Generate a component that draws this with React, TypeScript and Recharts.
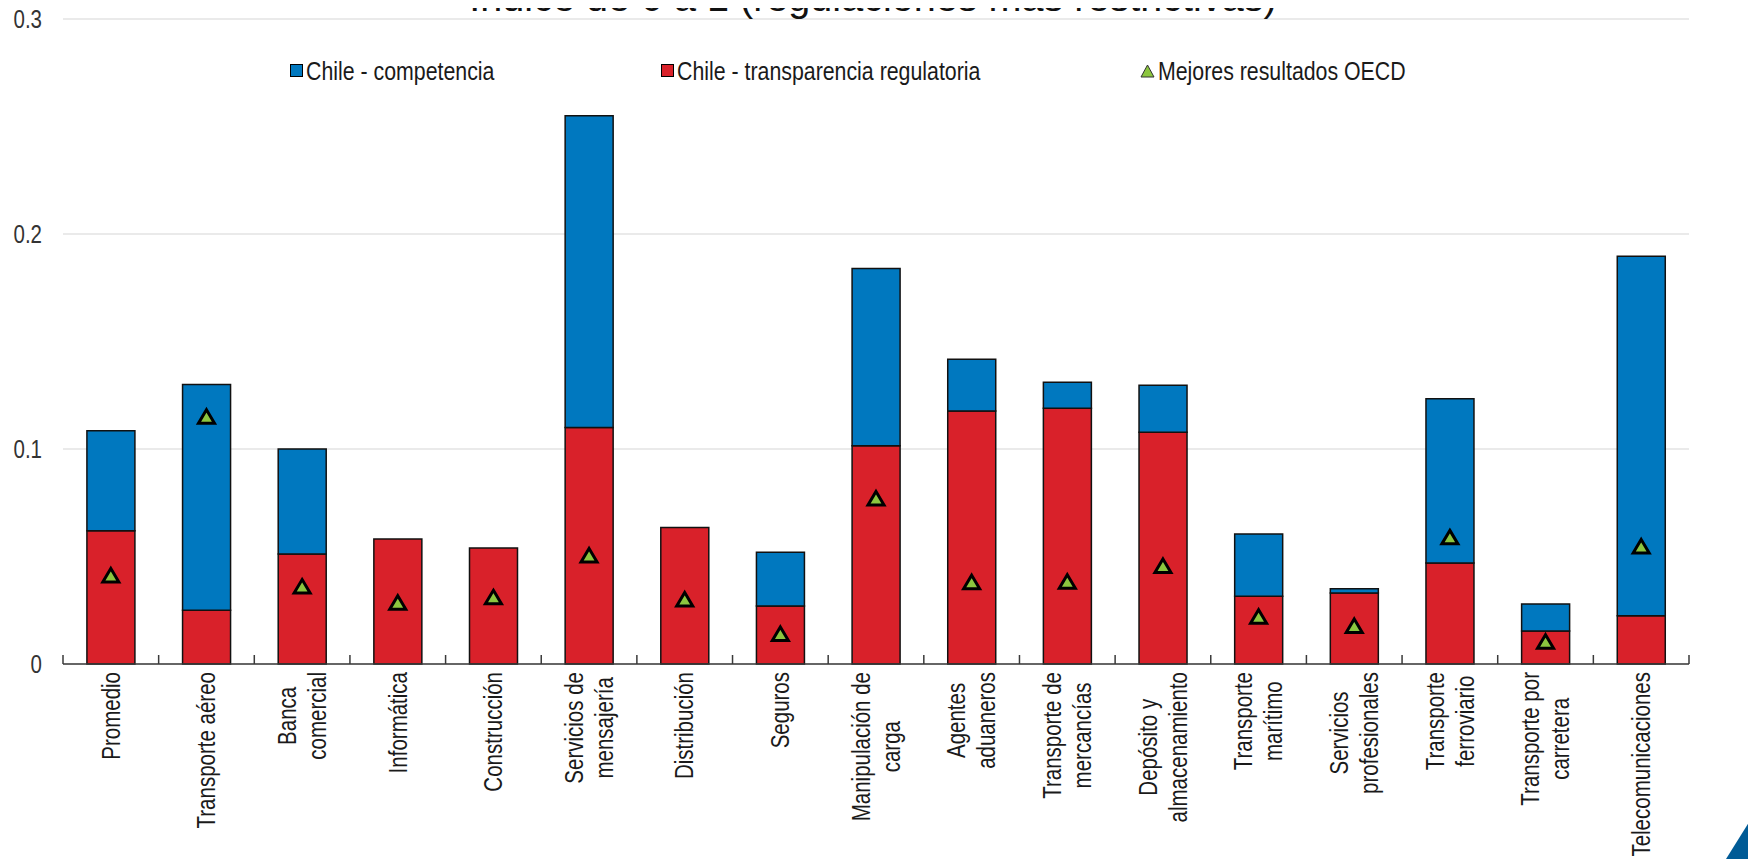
import React from 'react';
import { ComposedChart, Bar, Line, XAxis, YAxis, CartesianGrid, Legend } from 'recharts';

// ---- data ----
const categories = [
  'Promedio',
  'Transporte aéreo',
  'Banca\ncomercial',
  'Informática',
  'Construcción',
  'Servicios de\nmensajería',
  'Distribución',
  'Seguros',
  'Manipulación de\ncarga',
  'Agentes\naduaneros',
  'Transporte de\nmercancías',
  'Depósito y\nalmacenamiento',
  'Transporte\nmarítimo',
  'Servicios\nprofesionales',
  'Transporte\nferroviario',
  'Transporte por\ncarretera',
  'Telecomunicaciones',
];
// Chile - transparencia regulatoria (red, bottom segment)
const transparencia = [0.062, 0.025, 0.0512, 0.0581, 0.054, 0.110, 0.0635, 0.027, 0.1015, 0.1177, 0.119, 0.1078, 0.0315, 0.033, 0.047, 0.0153, 0.0225];
// Chile - competencia (blue, top segment)
const competencia = [0.0465, 0.105, 0.0488, 0, 0, 0.145, 0, 0.025, 0.0825, 0.024, 0.012, 0.0219, 0.029, 0.002, 0.0764, 0.0126, 0.1671];
// Mejores resultados OECD (triangles)
const oecdBest = [0.0412, 0.115, 0.036, 0.0285, 0.031, 0.0505, 0.030, 0.014, 0.077, 0.038, 0.0383, 0.0456, 0.022, 0.0177, 0.0589, 0.0104, 0.0547];

const yTicks = [0, 0.1, 0.2, 0.3];
const yTickLabels = ['0', '0.1', '0.2', '0.3'];

const seriesNames = {
  competencia: 'Chile - competencia',
  transparencia: 'Chile - transparencia regulatoria',
  oecd: 'Mejores resultados OECD',
};
const titleText = 'Índice de 0 a 1 (regulaciones más restrictivas)';

// ---- layout / style ----
const W = 1756;
const H = 859;
const PLOT_LEFT = 63;
const PLOT_RIGHT = 1689;
const PLOT_TOP = 19;
const PLOT_BOTTOM = 664;
const BAND = (PLOT_RIGHT - PLOT_LEFT) / categories.length;

const SANS = "'Liberation Sans', Arial, sans-serif";
const SQUEEZE = 0.82; // emulate Arial Narrow
const BLUE = '#0078BF';
const RED = '#D9212A';
const GREEN = '#8CC63F';
const AXIS = '#3a3a3a';

const data = categories.map((name, i) => ({
  name,
  transparencia: transparencia[i],
  competencia: competencia[i],
  oecd: oecdBest[i],
}));

let measureCtx: CanvasRenderingContext2D | null = null;
function measure(text: string, font: string): number {
  if (!measureCtx) {
    const c = document.createElement('canvas');
    measureCtx = c.getContext('2d');
  }
  if (!measureCtx) return text.length * 12;
  measureCtx.font = font;
  return measureCtx.measureText(text).width;
}

const LABEL_SIZE = 25;
const LINE_H = 30;

const XTick = (props: any) => {
  const { x, y, payload, index } = props;
  const lines = String(payload.value).split('\n');
  const font = `${LABEL_SIZE}px ${SANS}`;
  const w = Math.max(...lines.map((l) => measure(l, font)));
  const half = BAND / 2;
  return (
    <g>
      <line x1={x - half} x2={x - half} y1={y} y2={y - 9} stroke={AXIS} strokeWidth={1.5} />
      {index === categories.length - 1 && (
        <line x1={x + half} x2={x + half} y1={y} y2={y - 9} stroke={AXIS} strokeWidth={1.5} />
      )}
      <g transform={`translate(${x}, ${y + 8}) rotate(-90) scale(${SQUEEZE}, 1)`}>
        {lines.map((l, i) => (
          <text
            key={i}
            x={-w / 2}
            y={(i - (lines.length - 1) / 2) * LINE_H}
            textAnchor="middle"
            dominantBaseline="central"
            fontFamily={SANS}
            fontSize={LABEL_SIZE}
            fill="#1a1a1a"
          >
            {l}
          </text>
        ))}
      </g>
    </g>
  );
};

const labelFor = (v: number) => {
  const idx = yTicks.findIndex((t) => Math.abs(t - v) < 1e-9);
  return idx >= 0 ? yTickLabels[idx] : String(v);
};

const LeftYTick = (props: any) => {
  const { y, payload } = props;
  return (
    <g transform={`translate(${PLOT_LEFT - 21}, ${y}) scale(${SQUEEZE}, 1)`}>
      <text x={0} y={0} textAnchor="end" dominantBaseline="central" fontFamily={SANS} fontSize={25} fill="#333">
        {labelFor(payload.value)}
      </text>
    </g>
  );
};

const RightYTick = (props: any) => {
  const { y, payload } = props;
  return (
    <g transform={`translate(${PLOT_RIGHT + 32}, ${y}) scale(${SQUEEZE}, 1)`}>
      <text x={0} y={0} textAnchor="end" dominantBaseline="central" fontFamily={SANS} fontSize={25} fill="#333">
        {labelFor(payload.value)}
      </text>
    </g>
  );
};

const TriangleDot = (props: any) => {
  const { cx, cy } = props;
  if (cx == null || cy == null) return null;
  return (
    <path
      d={`M${cx},${cy - 7} L${cx + 8},${cy + 6.5} L${cx - 8},${cy + 6.5} Z`}
      fill={GREEN}
      stroke="#000"
      strokeWidth={3}
      strokeLinejoin="miter"
    />
  );
};

const LegendContent = () => {
  const textStyle: React.CSSProperties = {
    fontFamily: SANS,
    fontSize: 26,
    color: '#1a1a1a',
    whiteSpace: 'nowrap',
    lineHeight: '1',
    display: 'inline-block',
    transform: `scaleX(${SQUEEZE})`,
    transformOrigin: '0 50%',
  };
  const item = (left: number, icon: React.ReactNode, label: string) => (
    <div style={{ position: 'absolute', left, top: 0, height: 37, display: 'flex', alignItems: 'center' }}>
      {icon}
      <span style={{ ...textStyle, marginLeft: 3 }}>{label}</span>
    </div>
  );
  const square = (color: string) => (
    <div style={{ width: 11, height: 11, border: '1.5px solid #000', background: color, flex: 'none' }} />
  );
  const tri = (
    <svg width={15} height={14} style={{ flex: 'none' }}>
      <path d="M7.5,1 L14,13 L1,13 Z" fill={GREEN} stroke="#333" strokeWidth={1} />
    </svg>
  );
  return (
    <div style={{ position: 'relative', width: W, height: 37 }}>
      {item(290, square(BLUE), seriesNames.competencia)}
      {item(661, square(RED), seriesNames.transparencia)}
      {item(1140, tri, seriesNames.oecd)}
    </div>
  );
};

export default function App() {
  return (
    <div style={{ position: 'relative', width: W, height: H, margin: '-8px 0 0 -8px', background: '#fff' }}>
      <ComposedChart
        width={W}
        height={H}
        data={data}
        margin={{ top: PLOT_TOP, right: 0, left: 0, bottom: 0 }}
        barCategoryGap="25%"
      >
        <CartesianGrid vertical={false} stroke="#d6d6d6" strokeWidth={1.2} yAxisId="left" />
        <XAxis
          dataKey="name"
          interval={0}
          tickLine={false}
          tickSize={0}
          tickMargin={0}
          height={H - PLOT_BOTTOM}
          axisLine={{ stroke: AXIS, strokeWidth: 1.5 }}
          tick={<XTick />}
        />
        <YAxis
          yAxisId="left"
          width={PLOT_LEFT}
          domain={[0, 0.3]}
          ticks={yTicks}
          axisLine={false}
          tickLine={false}
          tick={<LeftYTick />}
        />
        <YAxis
          yAxisId="right"
          orientation="right"
          width={W - PLOT_RIGHT}
          domain={[0, 0.3]}
          ticks={yTicks}
          axisLine={false}
          tickLine={false}
          tick={<RightYTick />}
        />
        <Legend
          layout="horizontal"
          verticalAlign="middle"
          align="center"
          wrapperStyle={{ top: 52, left: 0, width: W, height: 37 }}
          content={() => <LegendContent />}
        />
        <Bar
          yAxisId="left"
          dataKey="transparencia"
          name={seriesNames.transparencia}
          stackId="chile"
          fill={RED}
          stroke="#111"
          strokeWidth={1.5}
          isAnimationActive={false}
        />
        <Bar
          yAxisId="left"
          dataKey="competencia"
          name={seriesNames.competencia}
          stackId="chile"
          fill={BLUE}
          stroke="#111"
          strokeWidth={1.5}
          isAnimationActive={false}
        />
        <Line
          yAxisId="left"
          dataKey="oecd"
          name={seriesNames.oecd}
          stroke="none"
          dot={<TriangleDot />}
          activeDot={false}
          isAnimationActive={false}
        />
      </ComposedChart>
      <svg
        width={W}
        height={H}
        style={{ position: 'absolute', left: 0, top: 0, pointerEvents: 'none' }}
      >
        <text x={873} y={11} textAnchor="middle" fontFamily={SANS} fontSize={39.6} fill="#111">
          {titleText}
        </text>
        <path d={`M1726,${H} L${W},811 L${W},${H} Z`} fill="#005B96" />
      </svg>
    </div>
  );
}
